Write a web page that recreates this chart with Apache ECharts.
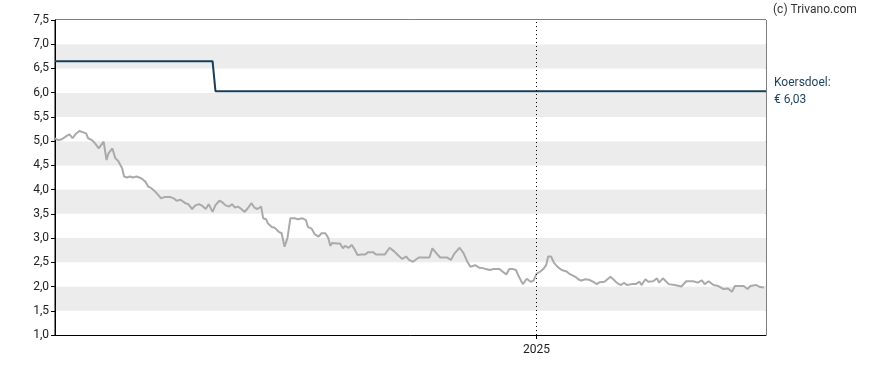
<!DOCTYPE html>
<html>
<head>
<meta charset="utf-8">
<script src="https://cdn.jsdelivr.net/npm/echarts@6/dist/echarts.min.js"></script>
<style>
html,body{margin:0;padding:0;background:#fff;}
#chart{width:888px;height:370px;}
</style>
</head>
<body>
<div id="chart"></div>
<script>
// ---- data ----
const xStart = '2023-08-25';
const xEnd = '2025-08-25';
const yearTicks = ['2025-01-01'];
const yTicks = [1.0, 1.5, 2.0, 2.5, 3.0, 3.5, 4.0, 4.5, 5.0, 5.5, 6.0, 6.5, 7.0, 7.5];

const priceDates = [
'2023-08-25','2023-08-28','2023-09-01','2023-09-06','2023-09-09','2023-09-12','2023-09-15','2023-09-19','2023-09-21','2023-09-26',
'2023-09-28','2023-10-02','2023-10-05','2023-10-09','2023-10-11','2023-10-14','2023-10-17','2023-10-19','2023-10-23','2023-10-26',
'2023-10-29','2023-11-02','2023-11-04','2023-11-07','2023-11-10','2023-11-13','2023-11-17','2023-11-19','2023-11-22','2023-11-26',
'2023-11-29','2023-12-02','2023-12-06','2023-12-09','2023-12-12','2023-12-16','2023-12-21','2023-12-25','2023-12-28','2024-01-01',
'2024-01-06','2024-01-09','2024-01-13','2024-01-16','2024-01-20','2024-01-23','2024-01-27','2024-01-30','2024-02-03','2024-02-06',
'2024-02-10','2024-02-13','2024-02-16','2024-02-20','2024-02-23','2024-02-26','2024-02-29','2024-03-03','2024-03-07','2024-03-10',
'2024-03-14','2024-03-17','2024-03-20','2024-03-24','2024-03-26','2024-03-29','2024-03-31','2024-04-04','2024-04-07','2024-04-11',
'2024-04-14','2024-04-17','2024-04-20','2024-04-23','2024-04-27','2024-05-01','2024-05-05','2024-05-09','2024-05-11','2024-05-15',
'2024-05-18','2024-05-22','2024-05-25','2024-05-29','2024-06-01','2024-06-03','2024-06-05','2024-06-10','2024-06-13','2024-06-16',
'2024-06-18','2024-06-22','2024-06-25','2024-06-28','2024-07-01','2024-07-05','2024-07-09','2024-07-12','2024-07-17','2024-07-20',
'2024-07-24','2024-07-29','2024-08-03','2024-08-08','2024-08-12','2024-08-16','2024-08-20','2024-08-23','2024-08-27','2024-09-02',
'2024-09-07','2024-09-13','2024-09-16','2024-09-20','2024-09-24','2024-10-01','2024-10-05','2024-10-09','2024-10-14','2024-10-18',
'2024-10-22','2024-10-25','2024-10-30','2024-11-03','2024-11-07','2024-11-10','2024-11-14','2024-11-18','2024-11-20','2024-11-24',
'2024-11-27','2024-12-01','2024-12-04','2024-12-08','2024-12-11','2024-12-14','2024-12-18','2024-12-22','2024-12-26','2024-12-29',
'2025-01-01','2025-01-05','2025-01-08','2025-01-11','2025-01-13','2025-01-16','2025-01-19','2025-01-23','2025-01-27','2025-02-01',
'2025-02-04','2025-02-06','2025-02-10','2025-02-13','2025-02-16','2025-02-20','2025-02-24','2025-02-28','2025-03-04','2025-03-07',
'2025-03-12','2025-03-18','2025-03-21','2025-03-25','2025-03-29','2025-04-01','2025-04-04','2025-04-09','2025-04-13','2025-04-17',
'2025-04-19','2025-04-23','2025-04-26','2025-05-01','2025-05-05','2025-05-07','2025-05-11','2025-05-17','2025-05-23','2025-05-30',
'2025-06-04','2025-06-11','2025-06-16','2025-06-20','2025-06-23','2025-06-27','2025-07-02','2025-07-07','2025-07-12','2025-07-17',
'2025-07-21','2025-07-24','2025-08-02','2025-08-06','2025-08-09','2025-08-15','2025-08-19','2025-08-23'
];
const priceValues = [
5.06,5.02,5.04,5.11,5.14,5.06,5.14,5.21,5.18,5.16,
5.06,5.02,4.96,4.85,4.82,4.99,4.61,4.75,4.85,4.65,
4.59,4.44,4.27,4.25,4.27,4.25,4.27,4.30,4.23,4.16,
4.06,4.03,3.96,3.89,3.82,3.85,3.85,3.82,3.77,3.79,
3.72,3.70,3.60,3.67,3.70,3.67,3.60,3.70,3.54,3.68,
3.77,3.74,3.68,3.65,3.70,3.63,3.65,3.61,3.54,3.61,
3.72,3.63,3.60,3.65,3.41,3.39,3.30,3.23,3.21,3.13,
3.10,2.82,3.00,3.41,3.41,3.39,3.41,3.37,3.23,3.19,
3.08,3.03,3.10,3.10,3.00,2.84,2.90,2.89,2.89,2.79,
2.84,2.80,2.86,2.77,2.65,2.66,2.66,2.71,2.71,2.66,
2.66,2.66,2.80,2.72,2.64,2.57,2.62,2.55,2.51,2.60,
2.60,2.60,2.79,2.69,2.60,2.60,2.55,2.69,2.80,2.69,
2.51,2.41,2.44,2.39,2.38,2.36,2.34,2.36,2.32,2.36,
2.31,2.25,2.36,2.36,2.34,2.20,2.05,2.16,2.10,2.12,
2.26,2.31,2.36,2.44,2.62,2.62,2.49,2.40,2.34,2.31,
2.26,2.29,2.20,2.15,2.12,2.15,2.14,2.10,2.05,2.09,
2.10,2.20,2.15,2.07,2.03,2.08,2.03,2.05,2.05,2.10,
2.03,2.15,2.10,2.11,2.17,2.08,2.17,2.05,2.03,2.00,
2.11,2.11,2.08,2.13,2.05,2.11,2.03,2.01,1.95,1.96,
1.89,2.01,2.01,1.95,2.01,2.03,1.99,1.98
];

const targetDates = ['2023-08-25','2024-02-03','2024-02-06','2025-08-25'];
const targetValues = [6.65, 6.65, 6.03, 6.03];
const targetLabel = ['Koersdoel:', '€ 6,03'];
const copyright = '(c) Trivano.com';

// ---- chart ----
const ts = d => Date.UTC(+d.slice(0, 4), +d.slice(5, 7) - 1, +d.slice(8, 10));
const chart = echarts.init(document.getElementById('chart'), null, {renderer: 'canvas'});
const FONT = 'Roboto';
const pricePairs = priceDates.map((d, i) => [ts(d), priceValues[i]]);
const targetPairs = targetDates.map((d, i) => [ts(d), targetValues[i]]);
const yearTs = yearTicks.map(ts);

chart.setOption({
  animation: false,
  backgroundColor: '#ffffff',
  textStyle: {fontFamily: FONT},
  grid: {left: 55, right: 122, top: 20, bottom: 35, show: true, borderColor: '#000', borderWidth: 1, backgroundColor: 'transparent'},
  graphic: [{
    type: 'text', left: 773, top: 4,
    style: {text: copyright, fontFamily: FONT, fontSize: 12, fill: '#333'}
  }],
  xAxis: {
    type: 'value',
    min: ts(xStart),
    max: ts(xEnd),
    axisLine: {show: true, lineStyle: {color: '#000', width: 1}},
    axisTick: {show: true, customValues: yearTs, length: 4, lineStyle: {color: '#000'}},
    axisLabel: {
      show: true, customValues: yearTs, margin: 9,
      fontFamily: FONT, fontSize: 12, color: '#222',
      formatter: v => String(new Date(v).getUTCFullYear())
    },
    splitLine: {show: false}
  },
  yAxis: {
    type: 'value',
    min: 1.0, max: 7.5, interval: 0.5,
    axisLine: {show: true, lineStyle: {color: '#000', width: 1}},
    axisTick: {show: true, length: 4, lineStyle: {color: '#000'}},
    axisLabel: {
      fontFamily: FONT, fontSize: 12, color: '#222', margin: 6,
      formatter: v => yTicks.includes(Math.round(v * 10) / 10) ? v.toFixed(1).replace('.', ',') : ''
    },
    splitLine: {show: false},
    splitArea: {show: true, areaStyle: {color: ['#ffffff', '#ececec']}}
  },
  series: [
    {
      type: 'line', data: pricePairs, symbol: 'none', smooth: false,
      lineStyle: {color: '#aaaaaa', width: 2}, z: 3,
      markLine: {
        silent: true, symbol: 'none', label: {show: false},
        lineStyle: {color: '#000', type: [1, 3], width: 1},
        data: [{xAxis: yearTs[0]}]
      }
    },
    {
      type: 'line', data: targetPairs, symbol: 'none', smooth: false,
      lineStyle: {color: '#173d5a', width: 2}, z: 4,
      endLabel: {
        show: true, distance: 8,
        formatter: targetLabel.join('\n'),
        fontFamily: FONT, fontSize: 12, lineHeight: 17, color: '#1b3f5c', align: 'left'
      }
    }
  ]
});
</script>
</body>
</html>
